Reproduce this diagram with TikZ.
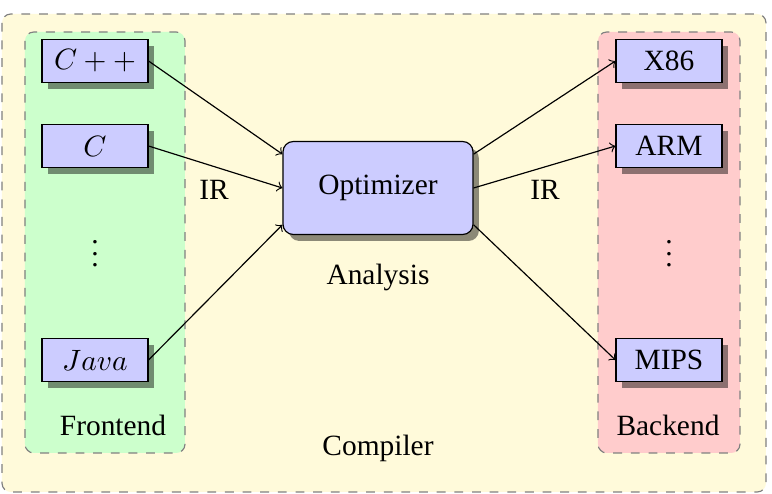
\documentclass[tikz,border=0pt]{standalone}
\usepackage{fontspec}
\setmainfont{Liberation Serif}
\usetikzlibrary{shadows}
\definecolor{boxblue}{RGB}{204,204,255}
\definecolor{regyellow}{RGB}{255,250,218}
\definecolor{reggreen}{RGB}{204,255,204}
\definecolor{regred}{RGB}{255,204,204}
\tikzset{
  langbox/.style={draw=black, fill=boxblue, minimum width=36pt, minimum height=14.6pt, inner sep=0pt,
    drop shadow={shadow xshift=2pt, shadow yshift=-2.2pt, fill=black, opacity=0.45}},
  optbox/.style={draw=black, fill=boxblue, rounded corners=3.5pt, minimum width=64.6pt, minimum height=31.6pt, inner sep=0pt,
    drop shadow={shadow xshift=2pt, shadow yshift=-2.2pt, fill=black, opacity=0.45}},
  region/.style={draw=gray, dashed, rounded corners=3pt},
  lbl/.style={inner sep=0pt},
  conn/.style={->, black}
}
\begin{document}
\begin{tikzpicture}[x=0.34pt, y=-0.34pt]
\useasboundingbox (0,0) rectangle (772,494);
% regions
\draw[region, fill=regyellow] (2,14) rectangle (766,492);
\draw[region, fill=reggreen] (25,32) rectangle (185,453);
\draw[region, fill=regred] (598,32) rectangle (740,453);
% frontend
\node[langbox] (cpp) at (95,61) {$C++$};
\node[langbox] (c) at (95,146) {$C$};
\node[lbl] (fdots) at (95,245) {$\vdots$};
\node[langbox] (java) at (95,360) {$Java$};
\node[lbl] (front) at (113,425) {Frontend};
% optimizer
\node[optbox] (opt) at (378,188) {Optimizer};
\node[lbl] (ana) at (378,277) {Analysis};
\node[lbl] (ir1) at (214,190) {IR};
\node[lbl] (ir2) at (545,190) {IR};
\node[lbl] (comp) at (378,448) {Compiler};
% backend
\node[langbox] (x86) at (669,61) {X86};
\node[langbox] (arm) at (669,146) {ARM};
\node[lbl] (bdots) at (669,245) {$\vdots$};
\node[langbox] (mips) at (669,360) {MIPS};
\node[lbl] (back) at (668,425) {Backend};
% connectors
\draw[conn] (cpp.east) -- ([yshift=11.5pt]opt.west);
\draw[conn] (c.east) -- (opt.west);
\draw[conn] (java.east) -- ([yshift=-12.5pt]opt.west);
\draw[conn] ([yshift=11.5pt]opt.east) -- (x86.west);
\draw[conn] (opt.east) -- (arm.west);
\draw[conn] ([yshift=-12.5pt]opt.east) -- (mips.west);
\end{tikzpicture}
\end{document}
